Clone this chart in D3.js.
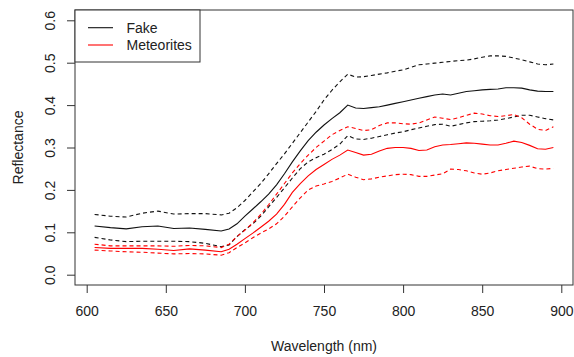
<!DOCTYPE html>
<html>
<head>
<meta charset="utf-8">
<script src="https://cdn.jsdelivr.net/npm/d3@7"></script>
<style>
  html, body { margin: 0; padding: 0; background: #fff; }
  svg { display: block; font-family: "Liberation Sans", Arial, sans-serif; }
</style>
</head>
<body>
<div id="chart"></div>
<script>
// Wavelength grid (nm)
const wavelengths = [605, 615, 625, 635, 645, 655, 665, 675, 685,
  690, 695, 700, 705, 710, 715, 720, 725, 730, 735, 740, 745, 750, 755, 760, 765,
  770, 775, 780, 785, 790, 795, 800, 805, 810, 815, 820, 825, 830, 835, 840,
  845, 850, 855, 860, 865, 870, 875, 880, 885, 890, 895];

// Fake samples: mean and bounds
const fakeUpper = [0.142, 0.138, 0.136, 0.145, 0.150, 0.143, 0.144, 0.144, 0.141,
  0.145, 0.158, 0.175, 0.195, 0.215, 0.238, 0.262, 0.285, 0.310, 0.335, 0.360, 0.385, 0.412, 0.435, 0.455, 0.473,
  0.466, 0.467, 0.470, 0.473, 0.476, 0.480, 0.483, 0.489, 0.495, 0.497, 0.499, 0.501, 0.503, 0.505, 0.506,
  0.509, 0.513, 0.516, 0.516, 0.515, 0.511, 0.507, 0.502, 0.497, 0.495, 0.497];
const fakeMean = [0.115, 0.111, 0.108, 0.113, 0.115, 0.109, 0.110, 0.107, 0.103,
  0.108, 0.120, 0.138, 0.155, 0.172, 0.190, 0.212, 0.238, 0.266, 0.292, 0.316, 0.336, 0.353, 0.368, 0.382, 0.400,
  0.393, 0.392, 0.394, 0.396, 0.400, 0.404, 0.408, 0.412, 0.416, 0.420, 0.424, 0.426, 0.424, 0.428, 0.432,
  0.434, 0.436, 0.437, 0.438, 0.441, 0.441, 0.440, 0.436, 0.433, 0.432, 0.432];
const fakeLower = [0.088, 0.082, 0.078, 0.079, 0.079, 0.079, 0.078, 0.074, 0.066,
  0.070, 0.090, 0.106, 0.120, 0.138, 0.160, 0.182, 0.205, 0.228, 0.250, 0.266, 0.276, 0.284, 0.295, 0.308, 0.328,
  0.320, 0.319, 0.322, 0.326, 0.330, 0.334, 0.337, 0.342, 0.346, 0.350, 0.354, 0.355, 0.350, 0.354, 0.358,
  0.361, 0.362, 0.363, 0.365, 0.368, 0.372, 0.376, 0.376, 0.372, 0.368, 0.365];

// Meteorites: mean and bounds
const metUpper = [0.072, 0.068, 0.068, 0.068, 0.068, 0.067, 0.069, 0.068, 0.064,
  0.072, 0.090, 0.105, 0.122, 0.142, 0.165, 0.190, 0.215, 0.240, 0.262, 0.282, 0.300, 0.315, 0.330, 0.340, 0.349,
  0.345, 0.340, 0.342, 0.352, 0.358, 0.358, 0.356, 0.355, 0.358, 0.365, 0.372, 0.369, 0.366, 0.370, 0.376,
  0.381, 0.379, 0.375, 0.373, 0.375, 0.378, 0.370, 0.355, 0.343, 0.340, 0.349];
const metMean = [0.064, 0.062, 0.062, 0.062, 0.060, 0.057, 0.061, 0.058, 0.054,
  0.060, 0.072, 0.085, 0.098, 0.112, 0.126, 0.143, 0.166, 0.194, 0.215, 0.233, 0.248, 0.260, 0.272, 0.282, 0.294,
  0.288, 0.282, 0.284, 0.292, 0.298, 0.300, 0.300, 0.298, 0.293, 0.294, 0.302, 0.306, 0.307, 0.309, 0.311,
  0.310, 0.308, 0.306, 0.306, 0.310, 0.315, 0.312, 0.305, 0.297, 0.296, 0.300];
const metLower = [0.058, 0.056, 0.054, 0.053, 0.051, 0.049, 0.050, 0.049, 0.046,
  0.052, 0.064, 0.075, 0.087, 0.098, 0.108, 0.120, 0.138, 0.160, 0.181, 0.200, 0.209, 0.214, 0.220, 0.228, 0.237,
  0.230, 0.224, 0.226, 0.230, 0.233, 0.236, 0.237, 0.236, 0.232, 0.232, 0.235, 0.238, 0.249, 0.248, 0.245,
  0.240, 0.237, 0.240, 0.245, 0.248, 0.251, 0.254, 0.256, 0.250, 0.249, 0.251];

const xTicks = [600, 650, 700, 750, 800, 850, 900];
const yTicks = [0.0, 0.1, 0.2, 0.3, 0.4, 0.5, 0.6];
const legendLabels = ['Fake', 'Meteorites'];

const width = 574, height = 357;
const box = { left: 75, right: 573, top: 10, bottom: 285 };
const axisColor = '#333';
const textColor = '#222';

const svg = d3.select('#chart').append('svg')
  .attr('width', width)
  .attr('height', height);

const x = d3.scaleLinear().domain([600, 900]).range([86.7, 561.3]);
const y = d3.scaleLinear().domain([0, 0.6]).range([274.7, 20.3]);

// Series - black for fake, red for meteorites
const series = [
  { values: fakeMean, color: '#111', dash: null },
  { values: fakeUpper, color: '#111', dash: '4,3' },
  { values: fakeLower, color: '#111', dash: '4,3' },
  { values: metMean, color: '#ff0000', dash: null },
  { values: metUpper, color: '#ff0000', dash: '4,3' },
  { values: metLower, color: '#ff0000', dash: '4,3' }
];

const line = d3.line()
  .x(d => x(d[0]))
  .y(d => y(d[1]));

svg.append('g')
  .selectAll('path')
  .data(series)
  .join('path')
  .attr('fill', 'none')
  .attr('stroke', d => d.color)
  .attr('stroke-width', 1.1)
  .attr('stroke-dasharray', d => d.dash)
  .attr('d', d => line(wavelengths.map((w, i) => [w, d.values[i]])));

// Plot frame
svg.append('rect')
  .attr('x', box.left)
  .attr('y', box.top)
  .attr('width', box.right - box.left)
  .attr('height', box.bottom - box.top)
  .attr('fill', 'none')
  .attr('stroke', axisColor)
  .attr('stroke-width', 1);

// Bottom axis (R style: ticks outside, no domain line)
const xAxis = svg.append('g')
  .attr('transform', `translate(0, ${box.bottom})`)
  .call(d3.axisBottom(x).tickValues(xTicks).tickSize(8).tickPadding(13).tickSizeOuter(0));
xAxis.select('.domain').remove();
xAxis.selectAll('line').attr('stroke', axisColor);
xAxis.selectAll('text')
  .attr('fill', textColor)
  .style('font-size', '14px')
  .style('font-family', '"Liberation Sans", Arial, sans-serif');

// Left axis with rotated labels
const yAxis = svg.append('g')
  .attr('transform', `translate(${box.left}, 0)`)
  .call(d3.axisLeft(y).tickValues(yTicks).tickSize(8).tickSizeOuter(0).tickFormat(d3.format('.1f')));
yAxis.select('.domain').remove();
yAxis.selectAll('line').attr('stroke', axisColor);
yAxis.selectAll('text')
  .attr('fill', textColor)
  .attr('x', null)
  .attr('dy', null)
  .attr('text-anchor', 'middle')
  .attr('transform', 'translate(-20, 0) rotate(-90)')
  .style('font-size', '14px')
  .style('font-family', '"Liberation Sans", Arial, sans-serif');

// Axis titles
svg.append('text')
  .attr('x', (box.left + box.right) / 2)
  .attr('y', 351)
  .attr('text-anchor', 'middle')
  .attr('fill', textColor)
  .style('font-size', '14px')
  .text('Wavelength (nm)');

svg.append('text')
  .attr('transform', `translate(23, ${(box.top + box.bottom) / 2}) rotate(-90)`)
  .attr('text-anchor', 'middle')
  .attr('fill', textColor)
  .style('font-size', '14px')
  .text('Reflectance');

// Legend
const legend = svg.append('g');
legend.append('rect')
  .attr('x', box.left)
  .attr('y', box.top)
  .attr('width', 125)
  .attr('height', 52)
  .attr('fill', '#fff')
  .attr('stroke', axisColor)
  .attr('stroke-width', 1);

const legendItems = legend.selectAll('g.item')
  .data(legendLabels)
  .join('g')
  .attr('class', 'item')
  .attr('transform', (_, i) => `translate(0, ${27.7 + i * 17.3})`);

legendItems.append('line')
  .attr('x1', 88)
  .attr('x2', 113)
  .attr('stroke', (_, i) => i === 0 ? '#111' : '#ff0000')
  .attr('stroke-width', 1.1);

legendItems.append('text')
  .attr('x', 126.5)
  .attr('dy', '0.36em')
  .attr('fill', textColor)
  .style('font-size', '14px')
  .text(d => d);
</script>
</body>
</html>
